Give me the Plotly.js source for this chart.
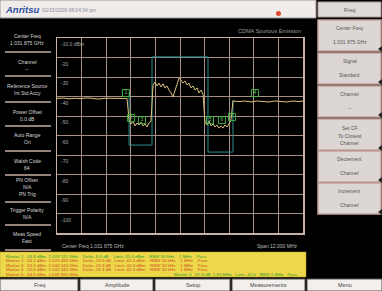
<!DOCTYPE html>
<html><head><meta charset="utf-8">
<script src="https://cdn.plot.ly/plotly-3.0.1.min.js"></script>
<style>html,body{margin:0;padding:0;background:#000;overflow:hidden}</style>
</head><body><div id="chart" style="width:382px;height:291px"></div>
<script>
// ---- data ----
const centerFreqMHz = 1031.875;
const spanMHz = 12;
const refLevelDbm = -10;
const dbPerDiv = 10;
const freqMHz = [1025.875,1026.17,1026.46,1026.75,1027.05,1027.34,1027.63,1027.92,1028.22,1028.51,1028.80,1029.10,1029.29,
  1029.39,1029.49,1029.58,1029.68,1029.78,1029.88,1029.97,1030.07,1030.17,1030.27,1030.36,1030.46,
  1030.56,1030.66,1030.75,1030.85,1030.95,1031.05,1031.14,1031.24,1031.34,1031.44,1031.53,1031.63,1031.73,1031.83,1031.92,1032.02,1032.12,1032.22,1032.31,1032.41,1032.51,1032.61,1032.71,1032.80,1032.90,1033.00,
  1033.09,1033.19,1033.29,1033.39,1033.49,1033.58,1033.68,1033.78,1033.88,1033.97,1034.07,1034.17,1034.27,1034.36,
  1034.46,1034.75,1035.05,1035.34,1035.63,1035.92,1036.22,1036.51,1036.80,1037.09,1037.39,1037.68,1037.875];
const traceDbm = [-41.0,-40.8,-41.2,-40.9,-41.1,-40.7,-41.0,-41.3,-40.9,-41.0,-40.8,-41.2,-41.0,
  -52.0,-54.1,-52.6,-55.1,-53.6,-54.6,-53.1,-55.1,-54.1,-55.6,-53.6,-52.6,
  -34.1,-32.6,-34.6,-33.1,-35.1,-33.5,-35.6,-34.6,-36.7,-38.2,-40.3,-37.2,-33.6,-30.5,-31.5,-33.1,-32.1,-34.1,-33.1,-35.6,-34.6,-36.7,-35.6,-38.2,-36.7,-38.7,
  -53.1,-54.6,-52.6,-55.1,-54.1,-55.6,-54.6,-56.2,-55.1,-56.2,-54.6,-55.6,-54.1,-52.1,
  -42.3,-42.6,-42.3,-42.8,-42.3,-42.6,-42.8,-42.3,-42.6,-42.8,-42.3,-42.6,-42.3];
const maskFreqMHz = [1029.39,1029.39,1030.51,1030.51,1033.24,1033.24,1034.46,1034.46];
const maskDbm = [-37.7,-64.9,-64.9,-19.7,-19.7,-68.5,-68.5,-41.8];
const markerNames = ["1","2","3","5","6","7","4"];
const markerFreqMHz = [1029.24,1029.49,1030.02,1033.34,1033.92,1034.41,1035.53];
const markerDbm = [-38.2,-51.0,-52.1,-52.1,-52.1,-50.5,-38.2];
const yTickValues = [-10,-20,-30,-40,-50,-60,-70,-80,-90,-100];
const yTickLabels = ["-10.0 dBm","-20","-30","-40","-50","-60","-70","-80","-90","-100"];
const leftPanel = [["Center Freq","1.031 875 GHz"],["Channel","--"],["Reference Source","Int Std Accy"],["Power Offset","0.0 dB"],["Auto Range","On"],["Walsh Code","64"],["PN Offset","N/A","PN Trig"],["Trigger Polarity","N/A"],["Meas Speed","Fast"]];
const softKeys = [["Center Freq","1.031 875 GHz"],["Signal","Standard"],["Channel","--"],["Set CF","To Closest","Channel"],["Decrement","Channel"],["Increment","Channel"]];
const bottomKeys = ["Freq","Amplitude","Setup","Measurements","Menu"];
const tableRows = [
  ["Marker 1  -44.8 dBm  1.029 241 GHz    Delta -9.6 dB    Limit -35.0 dBm    RBW 30 kHz    1 MHz    Pass","#2f9a2f"],
  ["Marker 2  -54.1 dBm  1.029 493 GHz    Delta -19.9 dB   Limit -42.0 dBm    RBW 30 kHz    1 MHz    Pass","#d04a28"],
  ["Marker 3  -53.1 dBm  1.030 020 GHz    Delta -18.9 dB   Limit -42.0 dBm    RBW 30 kHz    1 MHz    Pass","#d04a28"],
  ["Marker 5  -52.6 dBm  1.033 340 GHz    Delta -18.4 dB   Limit -42.0 dBm    RBW 30 kHz    1 MHz    Pass","#d04a28"]
];
const lastRowLeft = "Marker 6  -54.6 dBm  1.033 920 GHz";
const lastRowRight = "Marker 4  -97.9 dB  1.55 MHz   Limit -42.0   RBW 1 MHz   Pass";

// ---- layout helpers (pixel -> paper) ----
const L=57,R=303,T=38,B=233;
const px = x => (x-L)/(R-L);
const py = y => (B-y)/(B-T);
const shapes = [], ann = [];
function rect(x0,y0,x1,y1,fill,line,lw){shapes.push({type:'rect',xref:'paper',yref:'paper',x0:px(x0),x1:px(x1),y0:py(y1),y1:py(y0),fillcolor:fill,line:{color:line||fill,width:lw===undefined?0:lw},layer:'below'});}
function hline(x0,x1,y,color,w){shapes.push({type:'line',xref:'paper',yref:'paper',x0:px(x0),x1:px(x1),y0:py(y),y1:py(y),line:{color:color,width:w}});}
function txt(x,y,t,size,color,xa,extra){ann.push(Object.assign({xref:'paper',yref:'paper',x:px(x),y:py(y),text:t,showarrow:false,xanchor:xa||'center',yanchor:'middle',font:{size:size,color:color,family:'Liberation Sans, Arial, sans-serif'}},extra||{}));}

// top bar
rect(0,0,316,18,'#f1ece9','#9a9490',1);
txt(3,9.5,'<b><i>Anritsu</i></b>',9.5,'#2c4f9c','left');
txt(40,9.5,'02/15/2009 08:04:34 pm',5,'#8a8aa0','left');
shapes.push({type:'circle',xref:'paper',yref:'paper',x0:px(276),x1:px(281),y0:py(16),y1:py(11),fillcolor:'#e04a30',line:{width:0}});
// right header
rect(318,2,381,17,'#dedad7','#b09a94',1);
txt(349.5,10,'Freq',5.5,'#555','center');
// soft keys
const skY=[20,53,86,119,151,183];
softKeys.forEach((k,i)=>{
  const y0=skY[i], y1=y0+31;
  rect(318,y0,381,y1,'#dcd7d4','#c7a39a',1.5);
  shapes.push({type:'path',xref:'paper',yref:'paper',path:`M ${px(382)} ${py(y1-5)} L ${px(378)} ${py(y1-2)} L ${px(382)} ${py(y1+1)} Z`,fillcolor:'#222',line:{width:0}});
  if(k.length===2){txt(349.5,y0+8,k[0],5,'#555');txt(349.5,y0+22,k[1],5,'#555');}
  else {k.forEach((s,j)=>txt(349.5,y0+9+j*7.5,s,5,'#555'));}
});
// left panel
const lpY=[36,62,86,112,135,161,180,210,234];
const sepY=[52,76,102,126,151,175,202,225,250];
leftPanel.forEach((k,i)=>{k.forEach((s,j)=>txt(27,lpY[i]+j*7,s,5,'#d8d8d8'));});
sepY.forEach(y=>hline(5,51,y,'#c9ad9f',1.5));
// text around plot
txt(303,31,'CDMA Spurious Emission',5.5,'#9a9a9a','right');
txt(60,246,'Center Freq 1.031 875 GHz',5,'#bdbdbd','left');
txt(300,246,'Span 12.000 MHz',5,'#bdbdbd','right');
// yellow table
rect(0,252,306,277,'#ecd848','#b8a030',0.5);
tableRows.forEach((r,i)=>txt(4,256+i*4.5,r[0],4.4,r[1],'left'));
txt(4,274,lastRowLeft,4.4,'#d04a28','left');
txt(300,274,lastRowRight,4.4,'#2f9a2f','right');
// bottom keys
const bk=[[0,78],[80,153],[155,230],[232,305],[307,382]];
bk.forEach((b,i)=>{rect(b[0],279,b[1],291,'#f2efec','#555',1);txt((b[0]+b[1])/2,285,bottomKeys[i],5.5,'#444');});
// y labels inside plot
yTickValues.forEach((v,i)=>ann.push({xref:'paper',yref:'y',x:0,y:v,text:yTickLabels[i],showarrow:false,xanchor:'left',yanchor:'top',xshift:2,yshift:-1,font:{size:5,color:'#a8a8a8',family:'Liberation Sans, Arial, sans-serif'}}));

const f0 = centerFreqMHz - spanMHz/2, f1 = centerFreqMHz + spanMHz/2;
const data = [
  {x:maskFreqMHz,y:maskDbm,mode:'lines',line:{color:'#2f8c8c',width:1},hoverinfo:'skip'},
  {x:freqMHz,y:traceDbm,mode:'lines',line:{color:'#dcc27a',width:1},hoverinfo:'skip'},
  {x:markerFreqMHz,y:markerDbm,mode:'markers+text',text:markerNames,textposition:'middle center',
   textfont:{size:5,color:'#5ccf5c',family:'Liberation Sans, Arial'},
   marker:{symbol:'square-open',size:7,color:'#3fb03f',line:{width:1}},hoverinfo:'skip'}
];
const layout = {
  width:382,height:291,margin:{l:L,r:382-R,t:T,b:291-B,pad:0},
  paper_bgcolor:'#000',plot_bgcolor:'#000',showlegend:false,
  xaxis:{range:[f0,f1],tick0:f0,dtick:spanMHz/10,showticklabels:false,ticks:'',showgrid:true,gridcolor:'#a88f86',gridwidth:1,zeroline:false,showline:true,mirror:true,linecolor:'#c8b0a6',linewidth:1.5},
  yaxis:{range:[refLevelDbm-10*dbPerDiv,refLevelDbm],dtick:dbPerDiv,showticklabels:false,ticks:'',showgrid:true,gridcolor:'#a88f86',gridwidth:1,zeroline:false,showline:true,mirror:true,linecolor:'#c8b0a6',linewidth:1.5},
  shapes:shapes,annotations:ann
};
Plotly.newPlot('chart',data,layout,{staticPlot:true,displayModeBar:false});
</script></body></html>
